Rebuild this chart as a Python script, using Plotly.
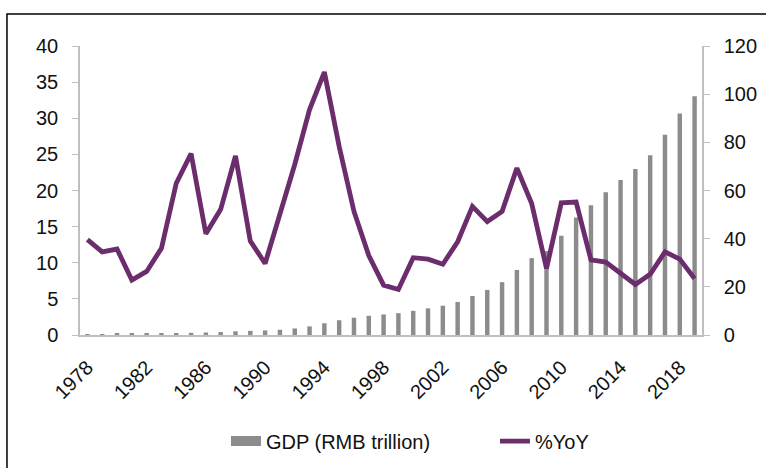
import plotly.graph_objects as go

years = list(range(1978, 2020))
gdp_rmb_trillion = [0.37, 0.41, 0.46, 0.49, 0.54, 0.60, 0.73, 0.91, 1.04, 1.22,
                    1.52, 1.72, 1.89, 2.20, 2.72, 3.57, 4.86, 6.13, 7.18, 7.97,
                    8.52, 9.06, 10.03, 11.09, 12.17, 13.74, 16.18, 18.73, 21.94, 27.01,
                    31.92, 34.85, 41.21, 48.79, 53.86, 59.30, 64.36, 68.89, 74.64, 83.20,
                    91.93, 99.09]
yoy_pct = [13.2, 11.5, 11.9, 7.6, 8.8, 12.0, 21.0, 25.1, 14.0, 17.4,
           24.8, 13.0, 9.9, 16.7, 23.6, 31.2, 36.4, 26.1, 17.1, 11.0,
           6.9, 6.3, 10.7, 10.5, 9.8, 12.9, 17.8, 15.7, 17.1, 23.1,
           18.2, 9.2, 18.3, 18.4, 10.4, 10.1, 8.5, 7.0, 8.4, 11.5,
           10.5, 7.8]
x_tick_years = list(range(1978, 2019, 4))
left_ticks = list(range(0, 41, 5))
right_ticks = list(range(0, 121, 20))

FONT = "Liberation Sans, Arial, sans-serif"
AXIS_COLOR = "#bfbfbf"
BAR_COLOR = "#8c8c8c"
LINE_COLOR = "#6b2d6b"

fig = go.Figure()
fig.add_trace(go.Bar(x=years, y=gdp_rmb_trillion, name="GDP (RMB trillion)",
                     marker=dict(color=BAR_COLOR, line=dict(width=0)),
                     yaxis="y", showlegend=False))
fig.add_trace(go.Scatter(x=[None], y=[None], name="GDP (RMB trillion)", mode="lines",
                         line=dict(color=BAR_COLOR, width=10), yaxis="y",
                         hoverinfo="skip"))
fig.add_trace(go.Scatter(x=years, y=yoy_pct, name="%YoY", mode="lines",
                         line=dict(color=LINE_COLOR, width=4.8),
                         yaxis="y2"))

fig.update_layout(
    width=766, height=468,
    margin=dict(l=80, r=64, t=46, b=133, autoexpand=False),
    paper_bgcolor="white", plot_bgcolor="white",
    font=dict(family=FONT, size=20, color="#111111"),
    bargap=0.7,
    showlegend=True,
    legend=dict(orientation="h", x=0.2347, xanchor="left", y=-0.367, yanchor="middle",
                font=dict(size=20), itemwidth=30, traceorder="normal",
                entrywidth=224, entrywidthmode="pixels", bgcolor="rgba(0,0,0,0)"),
    xaxis=dict(range=[1977.5, 2019.5], tickmode="array", tickvals=x_tick_years,
               ticktext=[str(y) for y in x_tick_years], tickangle=-45,
               showline=True, linecolor=AXIS_COLOR, linewidth=1.5,
               showgrid=False, zeroline=False, ticks="", automargin=False,
               ticklabelstandoff=11),
    yaxis=dict(range=[0, 120], tickvals=right_ticks, side="right",
               showline=True, linecolor=AXIS_COLOR, linewidth=1.5,
               ticks="outside", ticklen=6, tickcolor=AXIS_COLOR,
               ticklabelstandoff=10, automargin=False,
               showgrid=False, zeroline=False),
    yaxis2=dict(range=[0, 40], tickvals=left_ticks, side="left", overlaying="y",
                showline=True, linecolor=AXIS_COLOR, linewidth=1.5,
                ticks="outside", ticklen=6, tickcolor=AXIS_COLOR,
                ticklabelstandoff=10, automargin=False,
                showgrid=False, zeroline=False),
    shapes=[dict(type="rect", xref="paper", yref="paper",
                 x0=-0.1174, x1=1.3, y0=-0.6, y1=1.1107,
                 line=dict(color="#000000", width=1.5), layer="below")],
)

fig.write_html("out.html", config={"displayModeBar": False},
               post_script="document.body.style.margin='0px';document.body.style.overflow='hidden';")
